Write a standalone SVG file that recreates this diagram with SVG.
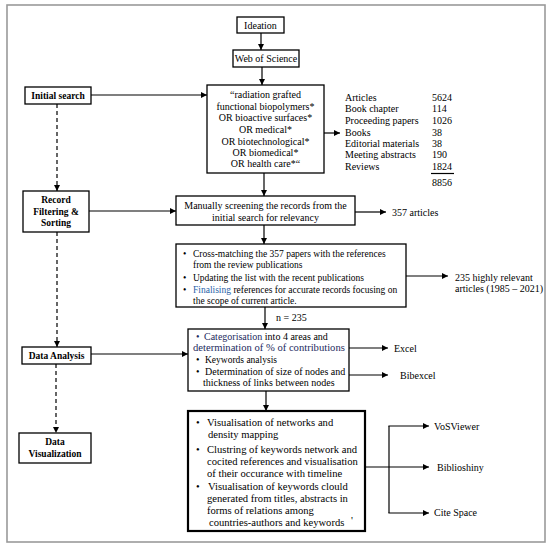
<svg xmlns="http://www.w3.org/2000/svg" width="550" height="549" viewBox="0 0 550 549">
<defs>
<marker id="ah" markerUnits="userSpaceOnUse" markerWidth="6" markerHeight="6" refX="6" refY="3" orient="auto">
<path d="M0,0 L6,3 L0,6 z" fill="#000"/>
</marker>
<style>
.box{fill:#fff;stroke:#000;stroke-width:1.3}
.thick{fill:#fff;stroke:#000;stroke-width:2.2}
.t{font-family:"Liberation Serif","Times New Roman",serif;font-size:10px;fill:#000}
.ts{font-family:"Liberation Serif","Times New Roman",serif;font-size:9.5px;fill:#000}
.tb{font-family:"Liberation Serif","Times New Roman",serif;font-size:9.5px;font-weight:bold;fill:#000}
.tv{font-family:"Liberation Serif","Times New Roman",serif;font-size:10.6px;fill:#000}
.c{text-anchor:middle}
.ln{stroke:#000;stroke-width:1.2;fill:none}
.ar{stroke:#000;stroke-width:1.2;fill:none;marker-end:url(#ah)}
.da{stroke:#000;stroke-width:1.2;fill:none;stroke-dasharray:4,3;marker-end:url(#ah)}
.navy{fill:#1c2a5e}
.blue{fill:#1f5fa8}
</style>
</defs>
<rect x="7" y="5" width="538" height="537" fill="#fff" stroke="#9a9a9a" stroke-width="1.6"/>

<g id="ideation"><rect class="box" x="237" y="17" width="47" height="16"/><text class="t c" x="260.5" y="28.5">Ideation</text></g>
<g id="wos"><rect class="box" x="233" y="50" width="66" height="17"/><text class="t c" x="266" y="62">Web of Science</text></g>
<g id="query"><rect class="box" x="207" y="85" width="117" height="88"/>
<text class="t c" x="265.5" y="98">“radiation grafted</text>
<text class="t c" x="265.5" y="110">functional biopolymers*</text>
<text class="t c" x="265.5" y="121">OR bioactive surfaces*</text>
<text class="t c" x="265.5" y="133">OR medical*</text>
<text class="t c" x="265.5" y="145">OR biotechnological*</text>
<text class="t c" x="265.5" y="156">OR biomedical*</text>
<text class="t c" x="265.5" y="167">OR health care*“</text>
</g>
<g id="stats">
<text class="t" x="345" y="100.5">Articles</text><text class="t" x="432" y="100.5">5624</text>
<text class="t" x="345" y="111.5">Book chapter</text><text class="t" x="432" y="111.5">114</text>
<text class="t" x="345" y="123.5">Proceeding papers</text><text class="t" x="432" y="123.5">1026</text>
<text class="t" x="345" y="135.5">Books</text><text class="t" x="432" y="135.5">38</text>
<text class="t" x="345" y="146.5">Editorial materials</text><text class="t" x="432" y="146.5">38</text>
<text class="t" x="345" y="157.5">Meeting abstracts</text><text class="t" x="432" y="157.5">190</text>
<text class="t" x="345" y="169.5">Reviews</text><text class="t" x="432" y="169.5">1824</text>
<line class="ln" x1="431" y1="173.5" x2="454" y2="173.5"/>
<text class="t" x="432" y="185.5">8856</text>
</g>
<g id="initial-search"><rect class="box" x="25" y="87" width="66" height="17"/><text class="tb c" x="58" y="98.5">Initial search</text></g>
<g id="record"><rect class="box" x="23" y="191" width="66" height="41"/>
<text class="tb c" x="56" y="202.5">Record</text>
<text class="tb c" x="56" y="214.5">Filtering &amp;</text>
<text class="tb c" x="56" y="225.5">Sorting</text>
</g>
<g id="manual"><rect class="box" x="176" y="196" width="179" height="29"/>
<text class="t c" x="265.5" y="208.5">Manually screening the records from the</text>
<text class="t c" x="265.5" y="220.5">initial  search for relevancy</text>
</g>
<g id="articles357"><text class="t" x="392" y="215.5">357 articles</text></g>
<g id="cross"><rect class="box" x="176" y="244" width="230" height="63"/>
<text class="ts" x="183" y="256.5">•</text><text class="ts" x="193" y="256.5">Cross-matching the 357 papers with the references</text>
<text class="ts" x="193" y="267.5">from the review publications</text>
<text class="ts" x="183" y="280.5">•</text><text class="ts" x="193" y="280.5">Updating the list with the recent publications</text>
<text class="ts" x="183" y="292.5">•</text><text class="ts" x="193" y="292.5"><tspan class="blue">Finalising</tspan> references for accurate records focusing on</text>
<text class="ts" x="193" y="303.5">the scope of current article.</text>
</g>
<g id="relevant235"><text class="t" x="455" y="280.5">235 highly relevant</text><text class="t" x="455" y="291.5">articles (1985 – 2021)</text></g>
<g id="n235"><text class="t" x="276" y="320.5">n = 235</text></g>
<g id="data-analysis"><rect class="box" x="22" y="347" width="69" height="17"/><text class="tb c" x="56.5" y="359">Data Analysis</text></g>
<g id="categorisation"><rect class="box" x="188" y="329" width="161" height="62"/>
<text class="t navy" x="196" y="339.5">•</text><text class="t" x="204" y="339.5"><tspan class="navy">Categorisation</tspan> into 4 areas and</text>
<text class="tv navy" x="193" y="350.5">determination of % of contributions</text>
<text class="t" x="196" y="362.5">•</text><text class="t" x="205" y="362.5" textLength="72" lengthAdjust="spacingAndGlyphs">Keywords analysis</text>
<text class="t" x="196" y="374.5">•</text><text class="t" x="205" y="374.5">Determination of size of nodes and</text>
<text class="t" x="203" y="385.5">thickness of links between nodes</text>
</g>
<g id="excel"><text class="t" x="394" y="351.5">Excel</text></g>
<g id="bibexcel"><text class="t" x="400" y="378.5">Bibexcel</text></g>
<g id="data-visualization"><rect class="box" x="19" y="433" width="72" height="30"/>
<text class="tb c" x="55" y="445">Data</text>
<text class="tb c" x="55" y="457">Visualization</text>
</g>
<g id="visualisation"><rect class="thick" x="188" y="411" width="177" height="120"/>
<text class="tv" x="196" y="425.5">•</text><text class="tv" x="207" y="425.5">Visualisation of networks and</text>
<text class="tv" x="208" y="437.5">density mapping</text>
<text class="tv" x="196" y="452.5">•</text><text class="tv" x="207" y="452.5">Clustring of keywords network and</text>
<text class="tv" x="207" y="464.5">cocited references and visualisation</text>
<text class="tv" x="207" y="476.5">of their occurance with timeline</text>
<text class="tv" x="196" y="489.5">•</text><text class="tv" x="208" y="489.5">Visualisation of keywords clould</text>
<text class="tv" x="207" y="501.5">generated from titles, abstracts in</text>
<text class="tv" x="207" y="513.5">forms of relations  among</text>
<text class="tv" x="209" y="525.5">countries-authors and keywords</text>
<text class="tv" x="351" y="523.5">'</text>
</g>
<g id="vosviewer"><text class="t" x="434" y="429.5">VoSViewer</text></g>
<g id="biblioshiny"><text class="t" x="437" y="470.5">Biblioshiny</text></g>
<g id="citespace"><text class="t" x="434" y="515.5">Cite Space</text></g>

<g id="connectors">
<line class="ar" x1="261" y1="33" x2="261" y2="50"/>
<line class="ar" x1="262" y1="67" x2="262" y2="85"/>
<line class="ar" x1="91" y1="95" x2="207" y2="95"/>
<line class="ar" x1="324" y1="133" x2="340" y2="133"/>
<line class="ar" x1="264" y1="173" x2="264" y2="196"/>
<line class="da" x1="57" y1="104" x2="57" y2="191"/>
<line class="ar" x1="89" y1="211" x2="176" y2="211"/>
<line class="ar" x1="355" y1="212" x2="386" y2="212"/>
<line class="ar" x1="264" y1="225" x2="264" y2="244"/>
<line class="ar" x1="406" y1="276" x2="448" y2="276"/>
<line class="ar" x1="265" y1="307" x2="265" y2="329"/>
<line class="da" x1="57" y1="232" x2="57" y2="347"/>
<line class="ar" x1="91" y1="354" x2="188" y2="354"/>
<line class="ar" x1="349" y1="348" x2="388" y2="348"/>
<line class="ar" x1="349" y1="375" x2="388" y2="375"/>
<line class="ar" x1="266" y1="391" x2="266" y2="411"/>
<line class="da" x1="56" y1="364" x2="56" y2="433"/>
<line class="ar" x1="365" y1="467" x2="429" y2="467"/>
<line class="ln" x1="389" y1="426" x2="389" y2="513"/>
<line class="ar" x1="388.4" y1="426" x2="429" y2="426"/>
<line class="ar" x1="388.4" y1="513" x2="429" y2="513"/>
</g>
</svg>
